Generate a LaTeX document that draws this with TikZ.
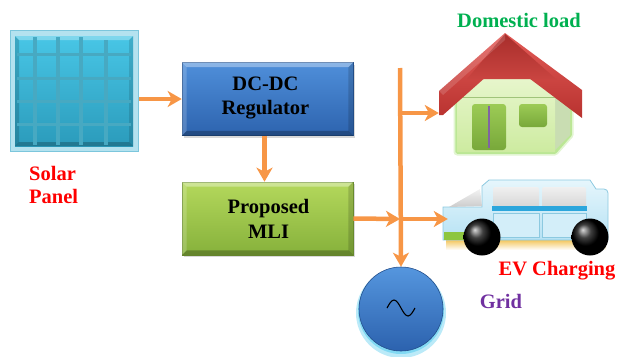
\documentclass[tikz,border=0pt]{standalone}
\usepackage{fontspec}
\setmainfont{Liberation Serif}
\usetikzlibrary{arrows.meta,calc,shadows}

\definecolor{flowOrange}{HTML}{F79646}
\definecolor{regTop}{HTML}{4F8FDA}
\definecolor{regBot}{HTML}{2D63AE}
\definecolor{regEdge}{HTML}{24528F}
\definecolor{invTop}{HTML}{B4D85C}
\definecolor{invBot}{HTML}{86B13B}
\definecolor{invEdge}{HTML}{6E9230}
\definecolor{pvFrame}{HTML}{B4E2EF}
\definecolor{pvFrameEdge}{HTML}{7CC6DC}
\definecolor{pvTop}{HTML}{48C6E6}
\definecolor{pvBot}{HTML}{2B9BBB}
\definecolor{pvGrid}{HTML}{47A9C2}
\definecolor{roofLight}{HTML}{E35B57}
\definecolor{roofDark}{HTML}{B8322F}
\definecolor{gableTop}{HTML}{A82E2B}
\definecolor{gableBot}{HTML}{C94440}
\definecolor{wallTop}{HTML}{EEF9D8}
\definecolor{wallBot}{HTML}{CDEBA0}
\definecolor{wallSide}{HTML}{C9DDB2}
\definecolor{wallGlow}{HTML}{8CD64A}
\definecolor{doorTop}{HTML}{9CCB55}
\definecolor{doorBot}{HTML}{78A83A}
\definecolor{doorLine}{HTML}{8064A2}
\definecolor{carTop}{HTML}{E6F6FC}
\definecolor{carBot}{HTML}{B6E2F4}
\definecolor{carEdge}{HTML}{8CC9E0}
\definecolor{carStripe}{HTML}{2CA6DC}
\definecolor{carGlow}{HTML}{F2C14E}
\definecolor{carGreen}{HTML}{8DC63F}
\definecolor{gridTop}{HTML}{5596DE}
\definecolor{gridBot}{HTML}{2C62AE}
\definecolor{gridGlow}{HTML}{3CC4EC}
\definecolor{loadGreen}{HTML}{00B050}
\definecolor{evRed}{HTML}{FF0000}
\definecolor{gridPurple}{HTML}{7030A0}

% soft bevel along the four edges of a rectangular node
\newcommand\bevelblock[1]{%
  \fill[white, fill opacity=0.35] (#1.north west) -- (#1.north east) -- ($(#1.north east)+(-5,5)$) -- ($(#1.north west)+(5,5)$) -- cycle;
  \fill[white, fill opacity=0.18] (#1.north west) -- ($(#1.north west)+(5,5)$) -- ($(#1.south west)+(5,-5)$) -- (#1.south west) -- cycle;
  \fill[black, fill opacity=0.25] (#1.south west) -- (#1.south east) -- ($(#1.south east)+(-5,-5)$) -- ($(#1.south west)+(5,-5)$) -- cycle;
  \fill[black, fill opacity=0.15] (#1.north east) -- (#1.south east) -- ($(#1.south east)+(-5,-5)$) -- ($(#1.north east)+(-5,5)$) -- cycle;
}

\begin{document}
\begin{tikzpicture}[x=1pt, y=-1pt,
  txt/.style={font=\bfseries\fontsize{20.5}{24}\selectfont, inner sep=0pt},
  flow/.style={draw=flowOrange, line width=4.5pt, -{Stealth[length=14pt,width=16pt,inset=4pt]}},
  block/.style={minimum width=171pt, minimum height=73pt, inner sep=0pt,
    draw=#1Edge, line width=0.6pt, top color=#1Top, bottom color=#1Bot,
    drop shadow={opacity=0.3, shadow xshift=1.5pt, shadow yshift=-2pt}},
  area/.style n args={2}{inner sep=0pt, minimum width=#1, minimum height=#2}]

\useasboundingbox (0,0) rectangle (617,356);

% ---------- solar panel ----------
\fill[pvFrame] (10,30) rectangle (139,152);
\draw[pvFrameEdge, line width=0.8pt] (10.4,30.4) rectangle (138.6,151.6);
\shade[top color=pvTop, bottom color=pvBot] (15,36) rectangle (133,146);
\fill[white, fill opacity=.3] (15,36) -- (133,36) -- (129,40) -- (19,40) -- cycle;
\fill[black, fill opacity=.22] (15,146) -- (133,146) -- (129,142) -- (19,142) -- cycle;
\fill[black, fill opacity=.15] (15,36) -- (19,40) -- (19,142) -- (15,146) -- cycle;
\fill[black, fill opacity=.12] (133,36) -- (133,146) -- (129,142) -- (129,40) -- cycle;
\foreach \gx/\gs in {35/37,58/37,81/37,106/40} \draw[pvGrid, line width=3.5pt] (\gx,\gs) -- (\gx,145);
\foreach \gy in {54,78,101,124} \draw[pvGrid, line width=3pt] (17,\gy) -- (131,\gy);
\node[area={129pt}{122pt}] (panel) at (74.5,91) {};
\node[txt, text=evRed, align=left, anchor=north west, font=\bfseries\fontsize{20.5}{23}\selectfont] (pvLabel) at (29,166) {Solar\\Panel};

% ---------- converter blocks ----------
\node[block=reg] (dcdc) at (267.5,99) {};
\bevelblock{dcdc}
\node[txt, align=center, anchor=north] (dcdcText) at (265.5,77) {DC-DC\\Regulator};

\node[block=inv] (mli) at (267.5,218.5) {};
\bevelblock{mli}
\node[txt, align=center, anchor=north, font=\bfseries\fontsize{20.5}{25}\selectfont] (mliText) at (268.5,199) {Proposed\\MLI};

% ---------- house ----------
\draw[wallGlow, line width=7pt, opacity=.25, line join=round] (457,100) -- (457,152) -- (555,152) -- (570,135) -- (570,100);
\draw[wallGlow, line width=3.5pt, opacity=.45, line join=round] (457,100) -- (457,152) -- (555,152) -- (570,135) -- (570,100);
\fill[wallSide] (555,95) -- (570,95) -- (570,135) -- (555,150) -- cycle;
\shade[top color=wallTop, bottom color=wallBot] (457,152) -- (457,100) -- (505,58) -- (555,98) -- (555,152) -- cycle;
\draw[wallGlow!70!black, line width=0.5pt, opacity=.5] (457,97) -- (570,97);
\shade[top color=doorTop, bottom color=doorBot, rounded corners=3pt] (472,104) rectangle (506,150);
\draw[doorLine, line width=1.6pt] (489,106) -- (489,148);
\shade[top color=doorTop, bottom color=doorBot, rounded corners=3pt] (519,104) rectangle (547,127);
\shade[top color=roofLight, bottom color=roofDark] (439,91) -- (505,33) -- (582,90) -- (582,118) -- (505,60) -- (443,115) -- (439,115) -- cycle;
\shade[top color=gableTop, bottom color=gableBot] (467,79) -- (505,34) -- (556,79) -- cycle;
\fill[white, fill opacity=.15] (439,91) -- (505,33) -- (505,40) -- (443,95) -- cycle;
\node[area={143pt}{119pt}] (house) at (510.5,92.5) {};
\node[txt, text=loadGreen, anchor=base] (houseLabel) at (519,27) {Domestic load};

% ---------- electric car ----------
\shade[top color=carGlow, bottom color=white] (446,239) rectangle (606,250);
\shadedraw[top color=carTop, bottom color=carBot, draw=carEdge, line width=0.8pt]
  (443,240) -- (443,207) -- (482,207) -- (482,186) -- (489,180) -- (590,180) -- (596,189)
  -- (604,189) to[out=0,in=90] (608,193) -- (608,240) -- cycle;
\shade[top color=gray!10, bottom color=gray!40] (449,207) -- (480,189) -- (482,206) -- cycle;
\shade[top color=gray!12, bottom color=gray!35, rounded corners=2pt] (493,187) rectangle (539,210);
\shade[top color=gray!12, bottom color=gray!35, rounded corners=2pt] (542,187) rectangle (586,210);
\fill[carStripe] (492,206) rectangle (587,211);
\draw[carEdge, fill=carTop!60!carBot, line width=0.6pt] (493,213) rectangle (539,237);
\draw[carEdge, fill=carTop!60!carBot, line width=0.6pt] (542,213) rectangle (586,237);
\fill[carGreen] (444,232) rectangle (470,240);
\shade[ball color=black] (482,237) circle[radius=18.5pt];
\shade[ball color=black] (590,237) circle[radius=18.5pt];
\node[area={161pt}{76pt}] (car) at (527.5,218) {};
\node[txt, text=evRed, anchor=base] (carLabel) at (557,275) {EV Charging};

% ---------- utility grid ----------
\fill[gridGlow, opacity=.35] (401,313) circle[radius=45pt];
\fill[gridGlow, opacity=.45] (401,311) circle[radius=43pt];
\node[circle, minimum size=84pt, inner sep=0pt, top color=gridTop, bottom color=gridBot,
  draw=gridBot!80!black, line width=0.6pt] (grid) at (401,309) {};
\draw[line width=1.1pt] (387,308) sin (394,300) cos (401,308) sin (408,316) cos (415,308);
\node[txt, text=gridPurple, anchor=base] (gridLabel) at (501,308.5) {Grid};

% ---------- power flow ----------
\coordinate (busTop) at (400,68);
\coordinate (busHouse) at (400,113);
\coordinate (busCar) at (400,219);
\draw[flow] (panel.east |- dcdc.west) -- (dcdc.west);
\draw[flow] ($(dcdc.south)+(-3,0)$) -- ($(mli.north)+(-3,0)$);
\draw[flow] (busTop) -- (grid.north);
\draw[flow] (mli.east) -- (busCar);
\draw[flow] (busHouse) -- (busHouse -| house.west);
\draw[flow] (busCar) -- ($(busCar -| car.west)+(1,0)$);

\end{tikzpicture}
\end{document}
